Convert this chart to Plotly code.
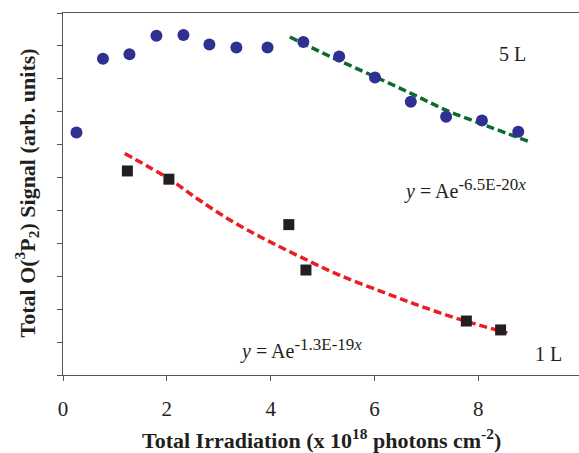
import plotly.graph_objects as go

# 5 L data (blue circles)
x5 = [0.26, 0.77, 1.28, 1.80, 2.32, 2.82, 3.34, 3.94, 4.63, 5.32, 6.01, 6.70, 7.38, 8.07, 8.77]
y5 = [7.37, 9.61, 9.75, 10.31, 10.33, 10.04, 9.95, 9.95, 10.12, 9.68, 9.04, 8.30, 7.85, 7.73, 7.39]
# 5 L fit (green dashed)
x5fit = [4.37, 5.20, 6.00, 6.70, 7.39, 8.20, 9.00]
y5fit = [10.27, 9.64, 9.07, 8.56, 8.04, 7.55, 7.08]
# 1 L data (black squares)
x1 = [1.24, 2.04, 4.35, 4.68, 7.77, 8.43]
y1 = [6.20, 5.95, 4.57, 3.19, 1.64, 1.37]
# 1 L fit (red dashed)
x1fit = [1.19, 2.06, 2.63, 3.28, 3.92, 4.56, 5.30, 6.23, 7.00, 7.77, 8.56]
y1fit = [6.73, 5.94, 5.31, 4.65, 4.10, 3.60, 3.05, 2.48, 2.03, 1.63, 1.28]

xticks = [0, 2, 4, 6, 8]
yticks = list(range(0, 12))

SERIF = "Liberation Serif"
INK = "#231F20"

fig = go.Figure()
fig.add_trace(go.Scatter(x=x5fit, y=y5fit, mode="lines", line_shape="spline",
                         line=dict(color="#0B6A2E", width=3.5, dash="8px,4px")))
fig.add_trace(go.Scatter(x=x1fit, y=y1fit, mode="lines", line_shape="spline",
                         line=dict(color="#EC1C24", width=3.5, dash="8px,4px")))
fig.add_trace(go.Scatter(x=x5, y=y5, mode="markers",
                         marker=dict(symbol="circle", size=12, color="#2E3192")))
fig.add_trace(go.Scatter(x=x1, y=y1, mode="markers",
                         marker=dict(symbol="square", size=11, color=INK)))

ann_font = dict(family=SERIF, size=20, color=INK)
def eq(exp):
    return ("<i>y</i> = Ae<sup><span style='font-size:17px'>" + exp + "</span></sup>")

fig.add_annotation(x=8.36, y=9.74, text="5 L", showarrow=False, xanchor="left",
                   yanchor="middle", font=ann_font)
fig.add_annotation(x=9.05, y=0.65, text="1 L", showarrow=False, xanchor="left",
                   yanchor="middle", font=ann_font)
fig.add_annotation(x=6.53, y=5.65, text=eq("-6.5E-20<i>x</i>"), showarrow=False,
                   xanchor="left", yanchor="middle", font=ann_font)
fig.add_annotation(x=3.37, y=0.79, text=eq("-1.3E-19<i>x</i>"), showarrow=False,
                   xanchor="left", yanchor="middle", font=ann_font)

title_font = dict(family=SERIF, size=22, color=INK, weight="bold")
fig.add_annotation(xref="paper", yref="paper", x=0.501, y=-0.176,
                   text="Total Irradiation (x 10<sup>18</sup> photons cm<sup>-2</sup>)",
                   showarrow=False, xanchor="center", yanchor="middle", font=title_font)
fig.add_annotation(xref="paper", yref="paper", x=-0.070, y=0.504, textangle=-90,
                   text="Total O(<sup>3</sup>P<sub>2</sub>) Signal (arb. units)",
                   showarrow=False, xanchor="center", yanchor="middle", font=title_font)

axis_line = "#555555"
fig.update_layout(
    width=579, height=453,
    margin=dict(l=63, r=0, t=13, b=78, autoexpand=False),
    paper_bgcolor="white", plot_bgcolor="white",
    showlegend=False,
    xaxis=dict(range=[0, 9.94], tickvals=xticks, ticks="outside", ticklen=5,
               tickcolor=axis_line, showline=True, linecolor=axis_line, linewidth=1.3,
               mirror=True, showgrid=False, zeroline=False, automargin=False,
               ticklabelstandoff=10,
               tickfont=dict(family=SERIF, size=21, color=INK)),
    yaxis=dict(range=[0, 11], tickvals=yticks, showticklabels=False, ticks="outside",
               ticklen=5, tickcolor=axis_line, showline=True, linecolor=axis_line,
               linewidth=1.3, showgrid=False, zeroline=False, automargin=False),
)
fig.write_html("out.html", config={"displayModeBar": False},
               post_script="document.body.style.margin='0';")
